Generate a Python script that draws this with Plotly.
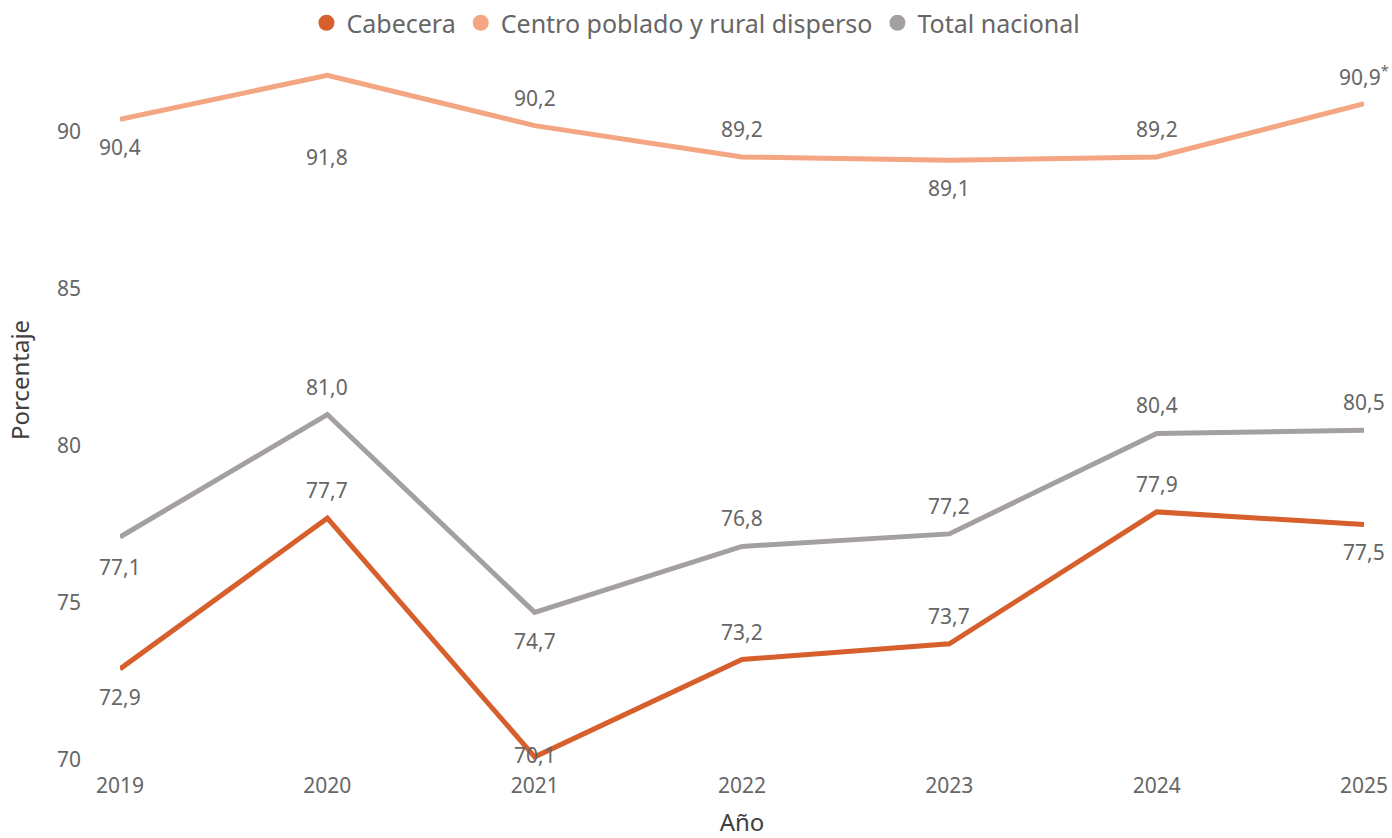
import plotly.graph_objects as go

years = [2019, 2020, 2021, 2022, 2023, 2024, 2025]
cabecera = [72.9, 77.7, 70.1, 73.2, 73.7, 77.9, 77.5]
centro_rural = [90.4, 91.8, 90.2, 89.2, 89.1, 89.2, 90.9]
total_nacional = [77.1, 81.0, 74.7, 76.8, 77.2, 80.4, 80.5]

# name, values, colour, label offset (px) per point
series = [
    ('Cabecera', cabecera, '#D65F2C',
     [-28, 28, 2, 28, 28, 28, -28]),
    ('Centro poblado y rural disperso', centro_rural, '#F4A582',
     [-28, -82, 28, 28, -28, 28, 28]),
    ('Total nacional', total_nacional, '#A5A0A0',
     [-30, 28, -29, 28, 28, 28, 28]),
]

fig = go.Figure()
annotations = []
for name, vals, color, shifts in series:
    fig.add_trace(go.Scatter(
        x=years, y=vals, name=name, mode='lines',
        line=dict(color=color, width=5),
        cliponaxis=False, showlegend=False,
    ))
    # legend entry with a round marker
    fig.add_trace(go.Scatter(
        x=[None], y=[None], name=name, mode='markers',
        marker=dict(color=color, size=18, symbol='circle'),
    ))
    for i, (x, v) in enumerate(zip(years, vals)):
        txt = f'{v:.1f}'.replace('.', ',')
        if name.startswith('Centro') and x == 2025:
            txt += '<sup>*</sup>'
        annotations.append(dict(
            x=x, y=v, text=txt, showarrow=False, yshift=shifts[i],
            font=dict(size=21, color='#666666'),
        ))

fig.update_layout(
    width=1392, height=838,
    paper_bgcolor='white', plot_bgcolor='white',
    font=dict(family='Noto Sans', color='#666666', size=21),
    margin=dict(l=120, r=28, t=0, b=78),
    annotations=annotations,
    legend=dict(
        orientation='h', x=0.463, xanchor='center',
        y=1.0, yanchor='top',
        font=dict(size=25, color='#666666'),
        itemwidth=30, bgcolor='rgba(0,0,0,0)',
    ),
)
fig.update_xaxes(
    range=[2019, 2025], dtick=1, showgrid=False, zeroline=False,
    showline=False, ticklabelstandoff=11,
    title=dict(text='Año', font=dict(size=24, color='#404040'), standoff=18),
)
fig.update_yaxes(
    range=[70, 94.2], tickvals=[70, 75, 80, 85, 90], showgrid=False,
    zeroline=False, showline=False, ticklabelstandoff=38,
    title=dict(text='Porcentaje', font=dict(size=24, color='#404040'), standoff=20),
)

fig.write_html('out.html', config={'displayModeBar': False},
               post_script="document.body.style.margin='0';")
